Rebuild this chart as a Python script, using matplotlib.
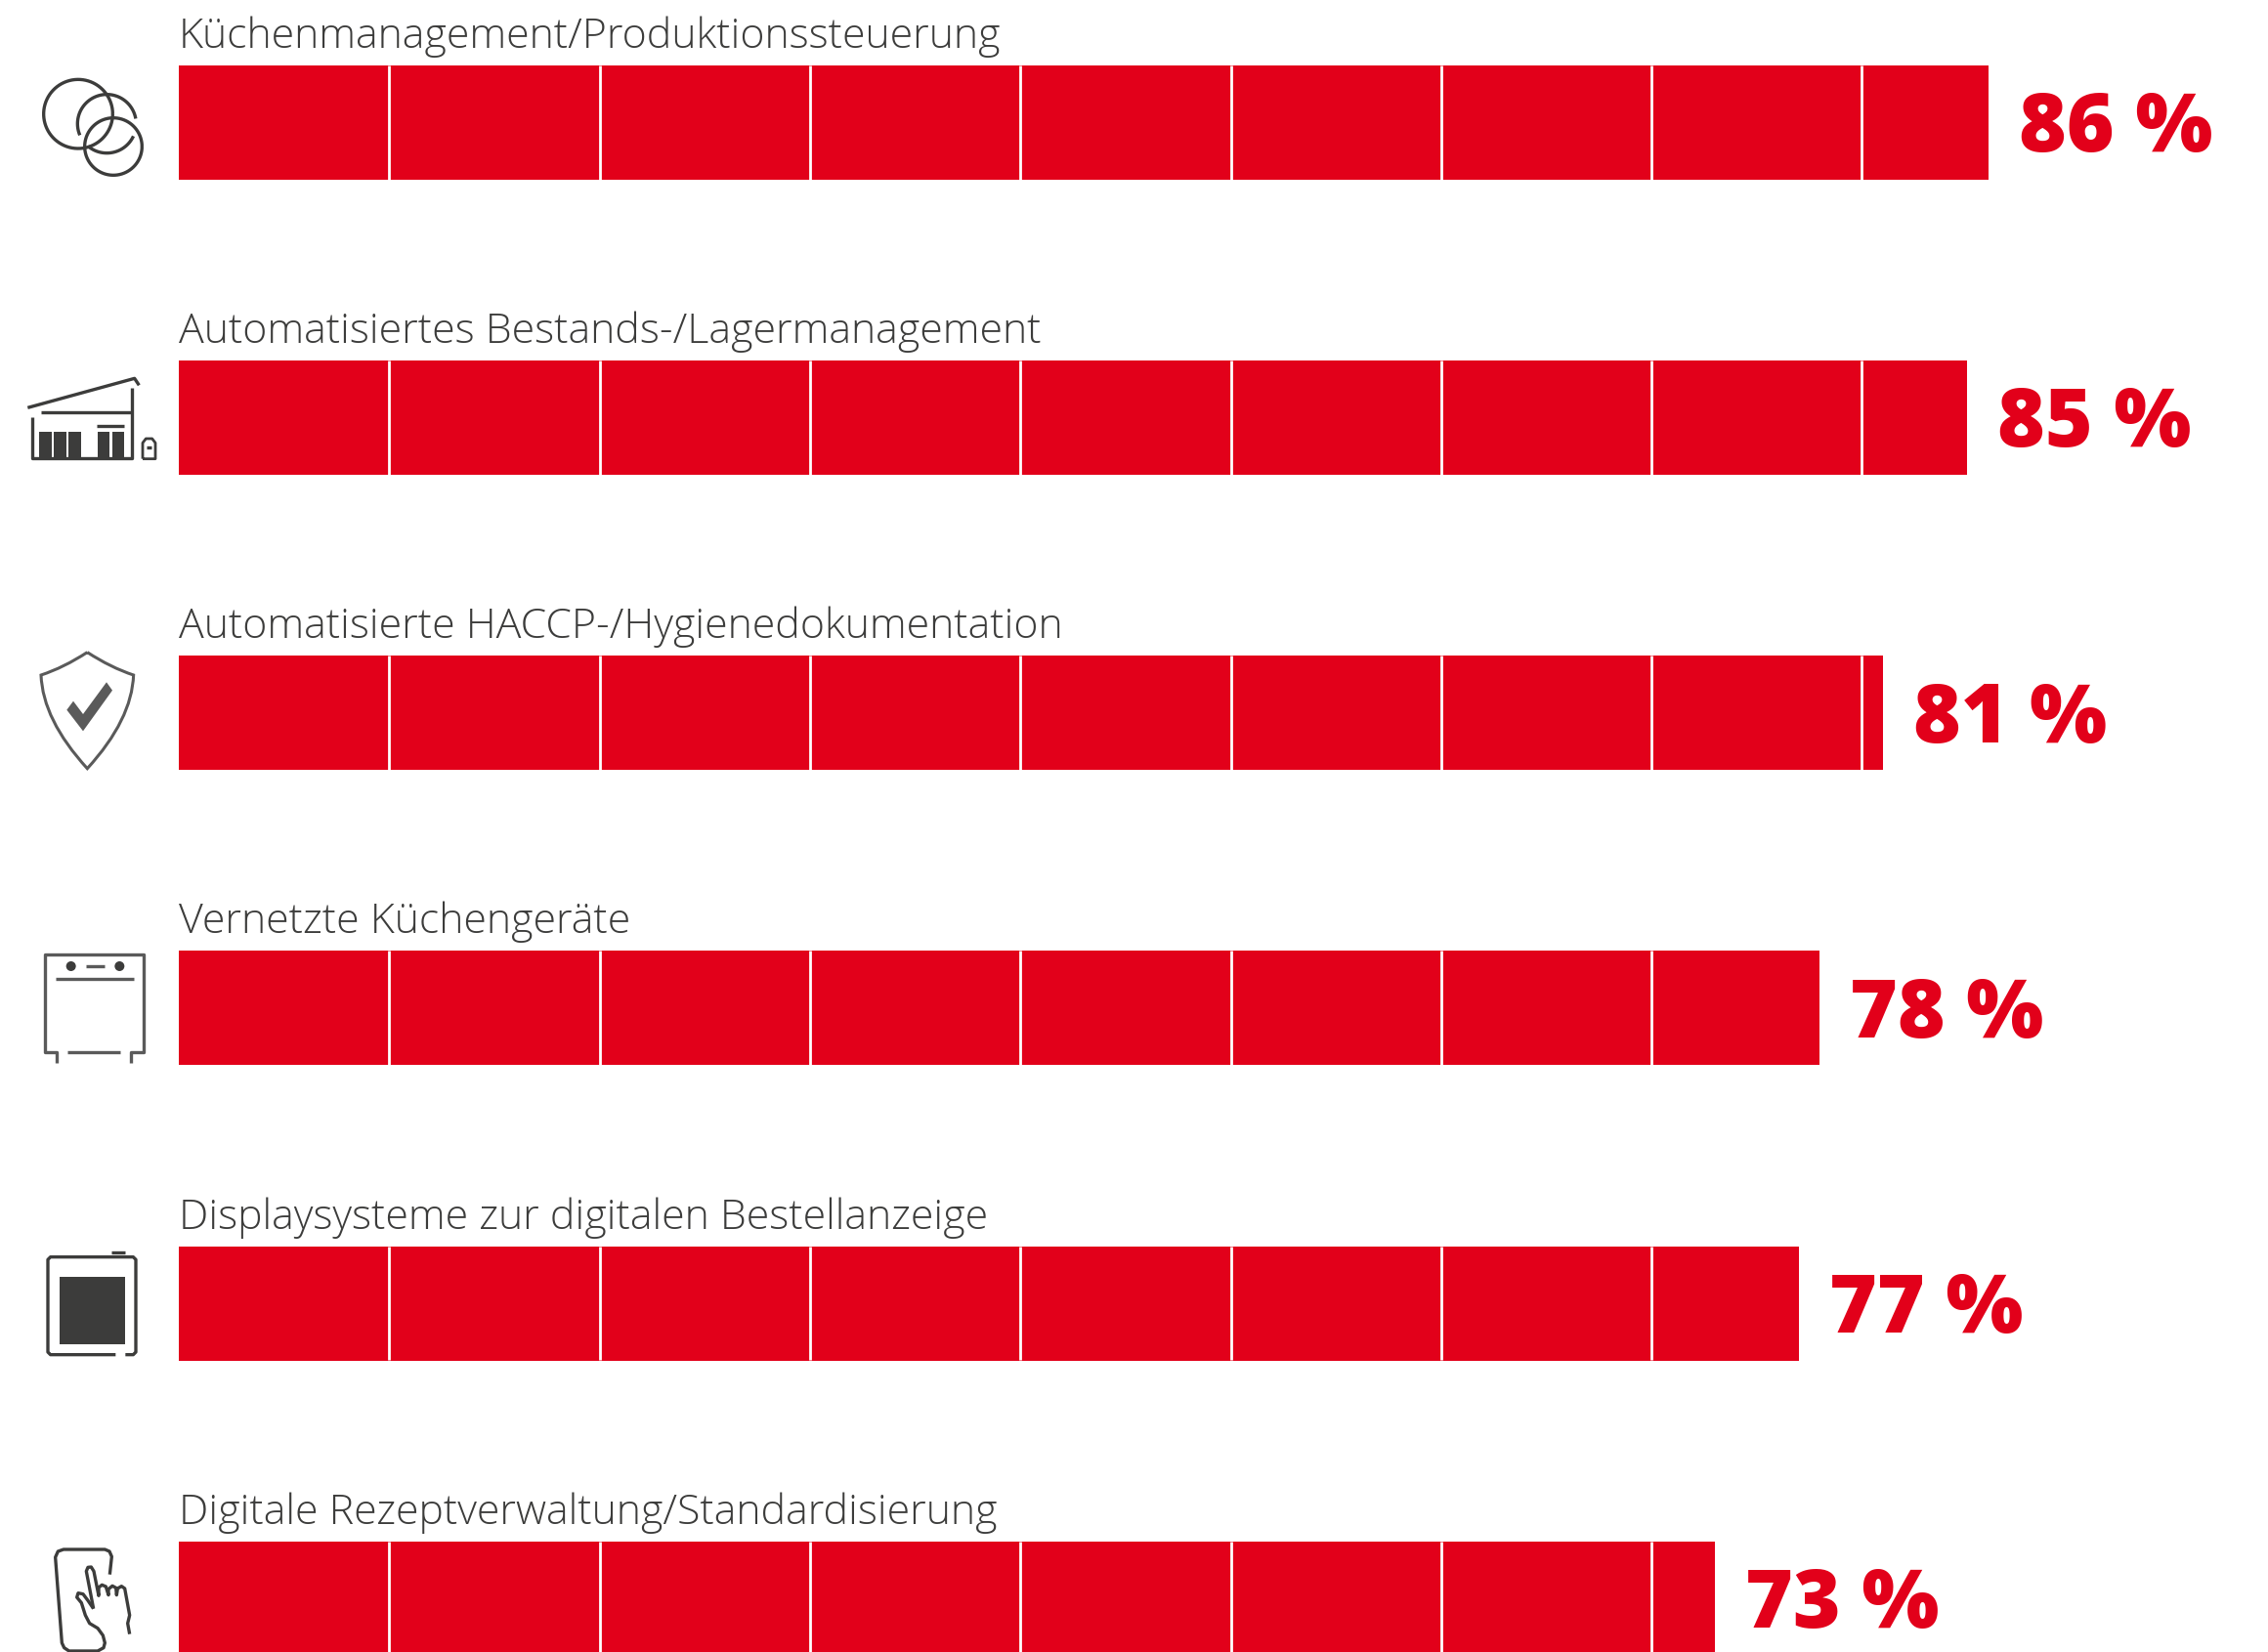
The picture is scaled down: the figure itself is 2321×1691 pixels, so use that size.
import numpy as np
import matplotlib
matplotlib.use("Agg")
import matplotlib.pyplot as plt
from matplotlib.patches import Circle, PathPatch, Polygon, Rectangle
from matplotlib.path import Path

# Data
labels = [
    "Küchenmanagement/Produktionssteuerung",
    "Automatisiertes Bestands-/Lagermanagement",
    "Automatisierte HACCP-/Hygienedokumentation",
    "Vernetzte Küchengeräte",
    "Displaysysteme zur digitalen Bestellanzeige",
    "Digitale Rezeptverwaltung/Standardisierung",
]
values = [86, 85, 81, 78, 77, 73]
grid_steps = [10, 20, 30, 40, 50, 60, 70, 80]

RED = "#E2001A"
DARK = "#3C3C3B"
GREY = "#5A5A5A"
W, H = 2321, 1691

fig = plt.figure(figsize=(W / 100, H / 100), dpi=100, facecolor="white")

# Main axes fills the figure, the limits put 0 % at x=183 px and the rows 302 px apart
px_per_pct = 21.53
row_px = 302.2
ax = fig.add_axes([0, 0, 1, 1])
ax.set_xlim(-183 / px_per_pct, (W - 183) / px_per_pct)
ax.set_ylim((H - 125.2) / row_px, -125.2 / row_px)
ax.axis("off")

bar_h = 117 / row_px
rows = np.arange(len(values))
ax.barh(rows, values, height=bar_h, color=RED, linewidth=0)

for row, value, label in zip(rows, values, labels):
    # White dividers every 10 %, only inside the bar
    steps = [s for s in grid_steps if s < value]
    ax.vlines(steps, row - bar_h / 2, row + bar_h / 2, color="white", linewidth=2.0)
    ax.text(0, row - bar_h / 2 - 18 / row_px, label, family="Open Sans", weight=300,
            fontsize=30.9, color=DARK, ha="left", va="baseline")
    ax.text(value + 31 / px_per_pct, row + 30 / row_px, f"{value} %", family="Open Sans",
            weight=800, fontsize=60, color=RED, ha="left", va="baseline")

# Icons are drawn on a second axes in pixel units of the zoomed crops
icons = fig.add_axes([0, 0, 1, 1])
icons.set_xlim(0, W)
icons.set_ylim(H, 0)
icons.axis("off")
icons.patch.set_alpha(0)


def line(points, off=0, lw=2.4, color=DARK):
    pts = np.array(points, dtype=float) / 3
    icons.plot(pts[:, 0], pts[:, 1] + off, color=color, lw=lw,
               solid_capstyle="butt", solid_joinstyle="round")


def arc(cx, cy, r, a0, a1, off=0):
    a = np.radians(np.linspace(a0, a1, 80))
    line(np.column_stack([cx + r * np.cos(a), cy - r * np.sin(a)]), off)


def box(x0, x1, y0, y1, off=0, color=DARK):
    icons.add_patch(Rectangle((x0 / 3, y0 / 3 + off), (x1 - x0) / 3, (y1 - y0) / 3,
                              color=color, linewidth=0))


def dot(x, y, r, off=0):
    icons.add_patch(Circle((x / 3, y / 3 + off), r / 3, color=DARK, linewidth=0))


# Circles
arc(240, 350, 106, 0, 360)
arc(348, 450, 88, 0, 360)
arc(328, 380, 90, 10, 203)
arc(328, 380, 90, 230, 335)

# Warehouse
line([(85, 1252), (413, 1162), (427, 1183)])
line([(98, 1280), (98, 1406), (404, 1406), (404, 1190)])
line([(127, 1267), (404, 1267)])
line([(298, 1308), (382, 1308)])
for x0, x1 in [(121, 158), (166, 203), (211, 248), (299, 336), (344, 382)]:
    box(x0, x1, 1325, 1406)
line([(438, 1409), (438, 1360), (448, 1347), (467, 1347), (477, 1360), (477, 1409), (438, 1409)], lw=2.0)
line([(450, 1373), (465, 1373)])

# Shield
off = 620
sx = [268, 340, 410, 405, 268, 131, 126, 196, 268]
sy = [143, 190, 213, 350, 500, 350, 213, 190, 143]
shield = Path(np.column_stack([np.array(sx) / 3, np.array(sy) / 3 + off]),
              [Path.MOVETO] + [Path.CURVE3] * 8)
icons.add_patch(PathPatch(shield, fill=False, edgecolor=GREY, lw=2.2))
check = np.array([(205, 320), (225, 293), (255, 333), (327, 235), (345, 260), (255, 385)], dtype=float) / 3
check[:, 1] += off
icons.add_patch(Polygon(check, closed=True, color=GREY, linewidth=0))

# Oven
line([(175, 1405), (175, 1370), (137, 1370), (137, 1072), (440, 1072), (440, 1370), (401, 1370), (401, 1405)],
     off, color=GREY)
line([(208, 1370), (368, 1370)], off, color=GREY)
line([(172, 1145), (412, 1145)], off, color=GREY)
line([(264, 1107), (322, 1107)], off, color=GREY)
dot(218, 1107, 15, off)
dot(367, 1107, 15, off)

# Display
off = 1220
line([(355, 500), (155, 500), (147, 492), (147, 208), (155, 200), (409, 200), (417, 208), (417, 492), (409, 500), (385, 500)], off)
line([(343, 185), (383, 185)], off)
box(182, 383, 260, 468, off)

# Hand on a tablet
line([(337, 1175), (343, 1120), (336, 1104), (322, 1098), (195, 1098), (178, 1104), (170, 1122),
      (190, 1385), (197, 1400), (212, 1410), (300, 1410), (318, 1400), (322, 1385),
      (316, 1362), (300, 1340), (275, 1325), (262, 1300), (250, 1262), (236, 1245),
      (240, 1232), (255, 1235), (270, 1255), (287, 1280)], off)
line([(287, 1280), (265, 1165), (270, 1153), (280, 1152), (288, 1165), (303, 1240),
      (303, 1215), (313, 1207), (325, 1212), (333, 1238),
      (333, 1220), (345, 1210), (356, 1216), (358, 1238),
      (361, 1218), (373, 1211), (383, 1218), (398, 1300), (392, 1325), (398, 1358)], off)

fig.savefig("out.png", dpi=100, facecolor="white")
